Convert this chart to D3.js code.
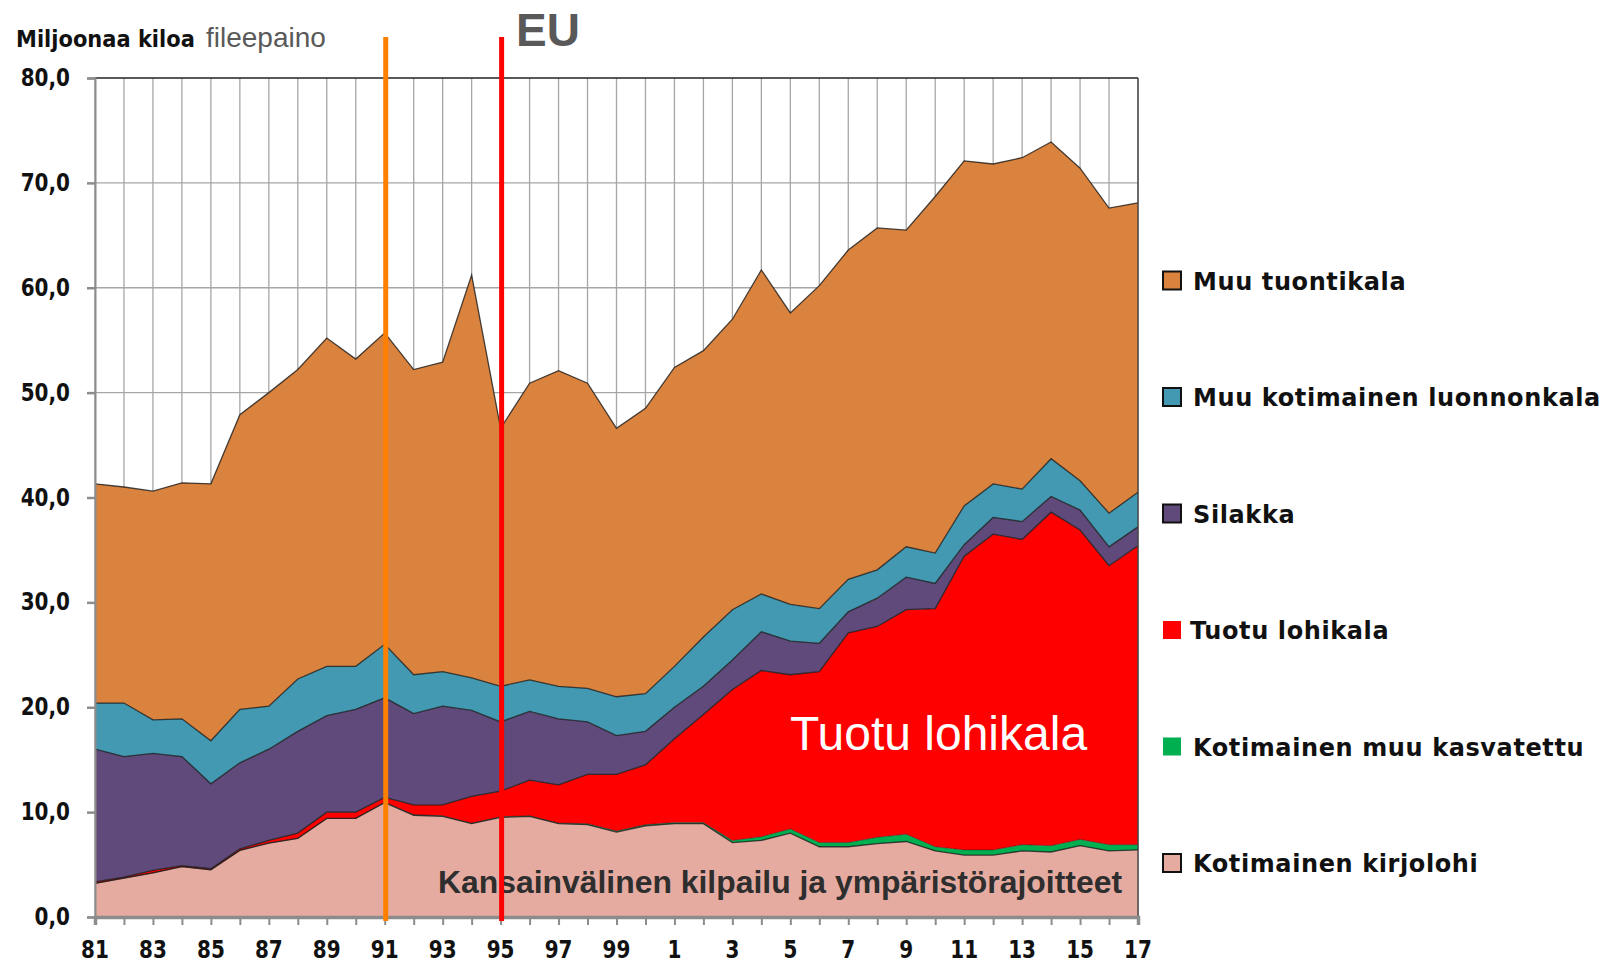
<!DOCTYPE html>
<html><head><meta charset="utf-8">
<script src="https://cdn.jsdelivr.net/npm/d3@7"></script>
<style>body{margin:0;background:#fff}svg{display:block}</style>
</head><body><svg id="c" width="1617" height="968"></svg>
<script>
const years = [1981,1982,1983,1984,1985,1986,1987,1988,1989,1990,1991,1992,1993,1994,1995,1996,1997,1998,1999,2000,2001,2002,2003,2004,2005,2006,2007,2008,2009,2010,2011,2012,2013,2014,2015,2016,2017];
const kotimainenKirjolohi = [3.2,3.7,4.2,4.8,4.5,6.35,7.05,7.5,9.4,9.4,10.9,9.7,9.6,8.9,9.5,9.6,8.9,8.8,8.1,8.7,8.9,8.9,7.1,7.3,8.0,6.7,6.7,7.0,7.2,6.3,5.9,5.9,6.3,6.2,6.8,6.3,6.4];
const kotimainenMuuKasvatettu = [0,0,0,0,0,0,0,0,0,0,0.05,0.05,0.05,0.05,0.05,0.05,0.05,0.1,0.1,0.1,0.1,0.1,0.2,0.35,0.4,0.4,0.4,0.6,0.7,0.4,0.5,0.5,0.6,0.6,0.6,0.6,0.5];
const tuotuLohikala = [0.15,0.1,0.25,0.1,0.1,0.15,0.25,0.5,0.6,0.6,0.45,0.95,1.05,2.55,2.45,3.4,3.65,4.7,5.4,5.7,8.0,10.3,14.4,15.85,14.7,16.3,20.0,20.1,21.4,22.7,28.0,30.1,29.1,31.8,29.5,26.6,28.5];
const silakka = [12.65,11.5,11.15,10.4,8.1,8.2,8.7,9.7,9.2,9.8,9.5,8.7,9.4,8.2,6.6,6.55,6.3,5.0,3.7,3.2,3.0,2.7,2.8,3.7,3.2,2.7,2.0,2.7,3.1,2.4,1.1,1.6,1.7,1.5,1.9,1.8,1.8];
const muuKotimainenLuonnonkala = [4.4,5.1,3.2,3.6,4.1,5.1,4.1,5.0,4.7,4.1,5.1,3.7,3.3,3.1,3.4,3.0,3.1,3.2,3.7,3.6,3.9,4.7,4.8,3.6,3.5,3.3,3.1,2.7,2.9,2.9,3.7,3.2,3.1,3.6,2.8,3.2,3.3];
const muuTuontikala = [20.9,20.6,21.8,22.5,24.5,28.1,29.9,29.5,31.3,29.3,29.7,29.1,29.5,38.4,24.6,28.3,30.1,29.1,25.6,27.2,28.5,27.3,27.7,30.9,27.8,30.8,31.4,32.6,30.2,34.0,32.9,30.5,31.6,30.2,29.8,29.1,27.6];

const seriesNames = ["Kotimainen kirjolohi","Kotimainen muu kasvatettu","Tuotu lohikala","Silakka","Muu kotimainen luonnonkala","Muu tuontikala"];
const seriesColors = ["#E6ABA0","#00B050","#FF0000","#604A7B","#4299B1","#D9833F"];
const legendBorder = [true,false,false,true,true,true];
const yTickValues = [0,10,20,30,40,50,60,70,80];
const yTickLabels = ["0,0","10,0","20,0","30,0","40,0","50,0","60,0","70,0","80,0"];
const xTickYears = [1981,1983,1985,1987,1989,1991,1993,1995,1997,1999,2001,2003,2005,2007,2009,2011,2013,2015,2017];
const xTickLabels = ["81","83","85","87","89","91","93","95","97","99","1","3","5","7","9","11","13","15","17"];
const markerYears = [1991,1995];
const markerColors = ["#FF8000","#FF0000"];

const seriesArrays = [kotimainenKirjolohi,kotimainenMuuKasvatettu,tuotuLohikala,silakka,muuKotimainenLuonnonkala,muuTuontikala];
const table = years.map((yr,i)=>{const o={year:yr}; seriesNames.forEach((n,k)=>o[n]=seriesArrays[k][i]); return o;});

const svg = d3.select('#c');
const L=95,R=1138,T=78,B=917;
const x = d3.scaleLinear().domain([1981,2017]).range([L,R]);
const y = d3.scaleLinear().domain([0,80]).range([B,T]);

// grid
svg.append('g').selectAll('line').data(yTickValues.filter(v=>v>0&&v<80)).join('line')
  .attr('x1',L).attr('x2',R).attr('y1',d=>y(d)).attr('y2',d=>y(d))
  .attr('stroke','#a6a6a6').attr('stroke-width',1.3);
svg.append('g').selectAll('line').data(years).join('line')
  .attr('x1',d=>x(d)).attr('x2',d=>x(d)).attr('y1',T).attr('y2',B)
  .attr('stroke','#a6a6a6').attr('stroke-width',1.3);

// stack
const stack = d3.stack().keys(seriesNames);
const layers = stack(table);
const area = d3.area().x(d=>x(d.data.year)).y0(d=>y(d[0])).y1(d=>y(d[1]));
const topLine = d3.line().x(d=>x(d.data.year)).y(d=>y(d[1]));
svg.append('g').selectAll('path').data(layers).join('path')
  .attr('d',area).attr('fill',(d,i)=>seriesColors[i]);
svg.append('g').selectAll('path').data(layers).join('path')
  .attr('d',topLine).attr('fill','none').attr('stroke','#1a1a1a')
  .attr('stroke-width',(d,i)=>i===1?0.6:1.3).attr('stroke-opacity',0.8);

// frame
svg.append('line').attr('x1',L).attr('x2',R).attr('y1',y(80)).attr('y2',y(80)).attr('stroke','#222').attr('stroke-width',1.6);
svg.append('line').attr('x1',R).attr('x2',R).attr('y1',y(80)).attr('y2',B).attr('stroke','#444').attr('stroke-width',1.4);

// y axis
const yAxis = d3.axisLeft(y).tickValues(yTickValues).tickSize(8).tickFormat('');
const gy = svg.append('g').attr('transform',`translate(${L},0)`).call(yAxis);
gy.select('.domain').attr('stroke','#8c8c8c').attr('stroke-width',2);
gy.selectAll('.tick line').attr('stroke','#8c8c8c').attr('stroke-width',2.5);
svg.append('g').selectAll('text').data(yTickValues).join('text')
  .attr('transform',d=>`translate(70,${y(d)+8}) scale(1,1.2)`)
  .attr('text-anchor','end').attr('font-family','DejaVu Sans').attr('font-weight','bold')
  .attr('font-size',20).attr('fill','#111').text((d,i)=>yTickLabels[i]);

// x axis
const xAxis = d3.axisBottom(x).tickValues(years).tickSize(8).tickFormat('');
const gx = svg.append('g').attr('transform',`translate(0,${B})`).call(xAxis);
gx.select('.domain').attr('stroke','#8c8c8c').attr('stroke-width',3.5);
gx.selectAll('.tick line').attr('stroke','#8c8c8c').attr('stroke-width',2);
svg.append('g').selectAll('text').data(xTickYears).join('text')
  .attr('transform',d=>`translate(${x(d)},958) scale(1,1.25)`)
  .attr('text-anchor','middle').attr('font-family','DejaVu Sans').attr('font-weight','bold')
  .attr('font-size',20).attr('fill','#111').text((d,i)=>xTickLabels[i]);

// annotations
svg.append('text').attr('x',438).attr('y',893).attr('font-family','Liberation Sans, Arial').attr('font-weight','bold')
  .attr('font-size',32).attr('fill','#2e2e2e').attr('textLength',684).attr('lengthAdjust','spacingAndGlyphs')
  .text('Kansainvälinen kilpailu ja ympäristörajoitteet');
svg.append('text').attr('x',790).attr('y',750).attr('font-family','Liberation Sans, Arial')
  .attr('font-size',48).attr('fill','#fff').text('Tuotu lohikala');

// marker lines
svg.append('g').selectAll('line').data(markerYears).join('line')
  .attr('x1',d=>x(d)+1).attr('x2',d=>x(d)+1).attr('y1',37).attr('y2',921)
  .attr('stroke',(d,i)=>markerColors[i]).attr('stroke-width',5);

// titles
svg.append('text').attr('transform','translate(16,47) scale(1,1.1)')
  .attr('font-family','DejaVu Sans').attr('font-weight','bold').attr('font-size',21)
  .attr('fill','#111').text('Miljoonaa kiloa');
svg.append('text').attr('x',206).attr('y',47).attr('font-family','Liberation Sans, Arial')
  .attr('font-size',28).attr('fill','#595959').text('fileepaino');
svg.append('text').attr('x',516).attr('y',46).attr('font-family','Liberation Sans, Arial').attr('font-weight','bold')
  .attr('font-size',46).attr('fill','#595959').text('EU');

// legend
const legendOrder = [5,4,3,2,1,0];
const ly = d3.scaleLinear().domain([0,5]).range([280.5,863]);
const lg = svg.append('g').selectAll('g').data(legendOrder).join('g')
  .attr('transform',(d,i)=>`translate(1163,${ly(i)})`);
lg.append('rect').attr('x',0).attr('y',-9).attr('width',18).attr('height',18)
  .attr('fill',d=>seriesColors[d]).attr('stroke',d=>legendBorder[d]?'#111':'none').attr('stroke-width',2);
lg.append('text').attr('x',d=>d===2?27:30).attr('y',9)
  .attr('font-family','DejaVu Sans').attr('font-weight','bold').attr('font-size',24)
  .attr('letter-spacing',0.6).attr('fill','#111').text(d=>seriesNames[d]);
</script></body></html>
